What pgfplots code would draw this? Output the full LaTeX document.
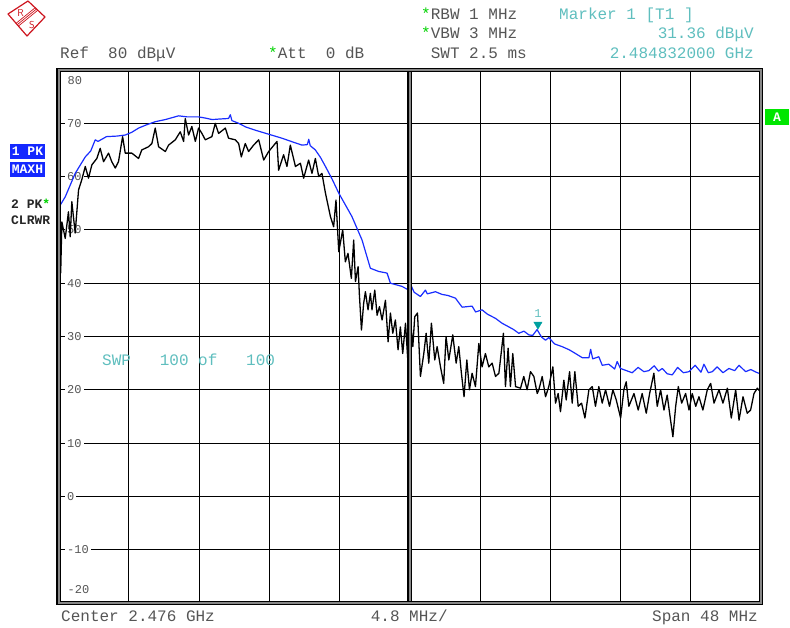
\documentclass[border=0pt]{standalone}
\usepackage{fontspec}
\setmainfont{Liberation Mono}
\usepackage{pgfplots}
\pgfplotsset{compat=1.18}
\definecolor{txtgray}{RGB}{85,85,85}
\definecolor{tealtxt}{RGB}{95,190,190}
\definecolor{tealmark}{RGB}{0,160,160}
\definecolor{traceblue}{RGB}{25,45,255}
\definecolor{starg}{RGB}{0,210,0}
\definecolor{boxblue}{RGB}{20,40,255}
\definecolor{agreen}{RGB}{0,230,0}
\definecolor{framegray}{RGB}{135,135,135}
\definecolor{rsred}{RGB}{205,20,30}
\newcommand{\hdrfont}{\fontsize{16}{16}\selectfont}
\begin{document}
\begin{tikzpicture}
\path (0,0) rectangle (790pt,627pt);
% R&S logo
\begin{scope}
\path[clip] (28pt,626pt) -- (45pt,610pt) -- (27pt,591pt) -- (8pt,613pt) -- cycle;
\draw[rsred, line width=0.7pt] (40.3pt,621.1pt) -- (13.7pt,599.4pt);
\draw[rsred, line width=0.7pt] (41.44pt,619.7pt) -- (14.84pt,598.0pt);
\draw[rsred, line width=0.7pt] (39.16pt,622.5pt) -- (12.56pt,600.8pt);
\end{scope}
\draw[rsred, line width=1.2pt, line join=round] (28pt,626pt) -- (45pt,610pt) -- (27pt,591pt) -- (8pt,613pt) -- cycle;
\node[rsred, font=\fontsize{10}{10}\sffamily, inner sep=0pt] at (20.5pt,614pt) {R};
\node[rsred, font=\fontsize{10}{10}\sffamily, inner sep=0pt] at (32pt,602pt) {S};

\begin{axis}[
  at={(58.5pt,24pt)}, anchor=south west,
  width=702.5pt, height=533pt, scale only axis,
  xmin=0, xmax=48, ymin=-20, ymax=80,
  xtick={4.8,9.6,14.4,19.2,24,28.8,33.6,38.4,43.2},
  xticklabel=\empty,
  ytick={-10,0,10,20,30,40,50,60,70},
  yticklabels={-10,0,10,20,30,40,50,60,70},
  major tick length=0pt,
  grid=major,
  major grid style={black, line width=1pt},
  axis line style={draw=none},
  set layers,
  clip=false,
  yticklabel style={anchor=west, xshift=6.5pt, fill=white, inner xsep=2pt, inner ysep=0.5pt, text=txtgray, font=\fontsize{12}{12}\selectfont},
]
\addplot[black, line width=1.3pt, line join=round] coordinates {
(0,48.1)(0.05,41.2)(0.15,42.0)(0.23,51.5)(0.46,48.4)(0.68,53.4)(0.80,48.7)(0.91,55.3)(1.14,49.4)(1.37,57.5)(1.59,59.4)(1.83,61.9)(2.05,59.7)(2.28,62.2)(2.62,63.4)(2.85,65.3)(3.08,62.8)(3.42,64.4)(3.64,62.8)(3.88,61.6)(4.10,62.8)(4.38,67.5)(4.56,64.4)(5.01,64.4)(5.47,63.4)(5.69,65.0)(6.15,65.6)(6.38,66.2)(6.61,69.1)(6.84,65.6)(7.30,64.7)(7.52,65.9)(7.98,66.9)(8.32,68.4)(8.55,66.6)(8.66,70.9)(8.89,67.8)(9.11,69.4)(9.35,66.6)(9.57,69.1)(9.80,68.1)(10.03,66.9)(10.48,67.5)(10.71,70.0)(10.94,68.1)(11.40,69.1)(11.62,67.2)(12.08,66.9)(12.31,66.2)(12.49,63.7)(12.76,66.2)(12.99,64.7)(13.33,65.9)(13.68,66.9)(14.02,63.1)(14.36,64.7)(14.93,66.6)(15.04,61.2)(15.38,64.1)(15.61,61.9)(15.84,65.9)(16.19,61.9)(16.53,62.5)(16.75,59.7)(17.09,63.1)(17.32,60.6)(17.55,63.4)(17.78,60.0)(18.00,60.6)(18.24,56.9)(18.58,52.5)(18.80,50.6)(18.96,55.6)
(19.15,45.9)(19.42,50.0)(19.60,44.0)(19.78,45.6)(20.01,40.9)(20.17,48.1)(20.29,40.3)(20.47,43.1)(20.56,37.8)(20.70,31.2)(20.85,36.2)(20.97,38.4)(21.15,35.0)(21.31,38.1)(21.42,35.0)(21.61,38.7)(21.77,34.0)(21.93,35.6)(22.11,33.1)(22.34,36.8)(22.52,29.0)(22.68,34.4)(22.84,30.6)(23.02,33.1)(23.20,27.5)(23.36,31.8)(23.52,26.8)(23.71,32.5)(23.88,25.0)(24.05,33.1)(24.21,28.1)(24.34,33.7)(24.53,34.4)(24.73,22.5)(24.96,26.8)(25.12,30.6)(25.30,25.0)(25.48,32.5)(25.71,25.6)(25.87,28.1)(26.10,24.3)(26.32,21.2)(26.48,30.0)(26.67,25.6)(26.94,30.3)(27.17,25.0)(27.35,28.1)(27.53,23.1)(27.71,18.7)(27.90,25.6)(28.08,20.0)(28.26,23.1)(28.49,20.6)(28.72,28.7)(28.94,24.3)(29.17,26.8)(29.40,24.3)(29.63,25.0)(29.86,22.5)(30.09,23.1)(30.40,30.6)(30.54,20.6)(30.72,27.8)(30.88,20.6)(31.04,26.8)(31.23,20.6)(31.57,20.3)(31.79,22.5)(32.02,20.0)(32.25,23.4)(32.48,22.5)(32.71,19.3)
(32.82,20.0)(33.05,22.5)(33.28,18.7)(33.50,20.6)(33.78,24.3)(33.96,17.5)(34.14,19.3)(34.30,15.9)(34.53,21.8)(34.69,18.1)(34.92,23.4)(35.10,17.5)(35.28,23.4)(35.51,16.9)(35.74,17.5)(35.97,14.7)(36.24,20.0)(36.47,20.6)(36.69,16.9)(36.92,20.6)(37.15,17.5)(37.38,20.0)(37.65,16.9)(37.88,20.0)(38.11,18.1)(38.41,14.7)(38.63,20.0)(38.79,21.5)(38.97,16.9)(39.32,19.3)(39.61,16.2)(39.88,19.3)(40.16,15.6)(40.39,19.3)(40.68,23.1)(40.91,16.9)(41.14,20.0)(41.37,16.2)(41.59,19.0)(41.82,14.3)(41.98,11.2)(42.17,16.9)(42.35,20.6)(42.58,17.5)(42.85,19.3)(43.08,16.2)(43.30,19.3)(43.54,16.9)(43.76,18.7)(44.03,16.2)(44.33,20.0)(44.56,21.2)(44.79,17.5)(45.13,20.0)(45.40,17.5)(45.70,20.3)(45.97,14.7)(46.27,20.0)(46.50,14.3)(46.77,18.7)(47.06,15.6)(47.29,16.2)(47.52,19.3)(47.75,20.3)(48,19.5)
};
\addplot[traceblue, line width=1.2pt, line join=round] coordinates {
(0,54.1)(0.46,56.2)(1.14,60.6)(1.83,63.7)(2.2,64.8)(2.51,66.9)(2.7,66.6)(3.28,67.5)(4.0,67.6)(4.56,67.8)(5.0,68.3)(5.47,69.1)(6.0,69.7)(6.61,70.3)(7.3,70.7)(8.21,71.4)(8.8,71.2)(9.57,71.2)(10.0,71.0)(10.5,70.7)(11.0,70.8)(11.62,70.9)(11.74,71.6)(11.85,70.5)(12.31,70.0)(12.8,69.3)(13.45,68.7)(14.3,68.0)(15.27,67.2)(16.0,66.5)(16.64,65.9)(17.0,66.0)(17.1,67.0)(17.2,65.8)(17.55,65.0)(17.9,63.6)(18.24,61.9)(18.7,59.5)(19.15,56.9)(20.05,52.5)(20.74,48.1)(21.31,42.8)(21.88,42.2)(22.45,41.9)(22.68,40.0)(23.47,39.4)(23.93,38.7)(24.1,39.5)(24.3,38.3)(24.73,37.5)(25.07,38.7)(25.2,38.0)(25.76,38.4)(26.2,37.9)(26.6,37.7)(27.12,37.2)(27.58,35.5)(28.26,35.7)(28.5,34.6)(28.94,35.0)(29.3,34.2)(29.86,33.4)(30.3,32.5)(30.77,31.8)(31.1,31.3)(31.45,30.6)(31.8,31.0)(32.14,30.3)(32.4,30.2)(32.7,31.3)(33.0,29.9)(33.28,29.3)(33.5,29.8)(33.9,28.6)(34.41,28.1)(34.9,27.5)(35.33,26.8)(35.8,26.0)(36.24,26.0)(36.36,27.6)(36.5,25.8)(36.92,26.2)(37.15,24.6)(37.6,24.8)(38.0,23.9)(38.17,25.3)(38.4,24.0)(38.8,23.6)(39.2,23.2)(39.6,24.2)(40.0,23.4)(40.34,23.6)(40.7,24.5)(41.0,23.5)(41.25,24.0)(41.6,23.0)(41.94,22.8)(42.3,24.2)(42.7,23.2)(43.08,23.4)(43.5,24.6)(43.9,23.3)(44.1,24.8)(44.4,23.2)(44.67,23.4)(45.0,24.3)(45.4,23.2)(45.81,24.0)(46.2,23.6)(46.5,24.6)(46.95,23.4)(47.3,23.8)(47.75,23.2)(48,23.0)
};
% marker 1
\addplot[only marks, mark=triangle*, mark size=4.8pt, color=tealmark, mark options={yshift=4.8pt, rotate=180, fill=tealmark, draw=tealmark}] coordinates {(32.76,31.36)};
\node[text=tealtxt, font=\fontsize{12}{12}\selectfont] at (axis cs:32.76,31.36) [yshift=16pt] {1};
% centre line and frame
\draw[black, double=framegray, double distance=2pt, line width=1.3pt] (axis cs:24,-20) -- (axis cs:24,80);
\draw[black, double=framegray, double distance=2pt, line width=1.3pt] (rel axis cs:0,0) rectangle (rel axis cs:1,1);
\node[anchor=west, text=txtgray, font=\fontsize{12}{12}\selectfont, inner sep=0pt] at (rel axis cs:0,1) [xshift=9pt, yshift=-11pt] {80};
\node[anchor=west, text=txtgray, font=\fontsize{12}{12}\selectfont, inner sep=0pt] at (rel axis cs:0,0) [xshift=9pt, yshift=13pt] {-20};
\node[anchor=base west, text=tealtxt, font=\hdrfont, inner sep=0pt] at (rel axis cs:0,0) [xshift=43.5pt, yshift=237.3pt] {SWP~~~100~of~~~100};
\end{axis}

% header texts
\node[anchor=base west, inner sep=0pt, text=txtgray, font=\hdrfont] at (60pt,568.7pt) {Ref~~80~dBμV};
\node[anchor=base west, inner sep=0pt, text=txtgray, font=\hdrfont] at (268pt,568.7pt) {\textcolor{starg}{*}Att~~0~dB};
\node[anchor=base west, inner sep=0pt, text=txtgray, font=\hdrfont] at (421pt,607.7pt) {\textcolor{starg}{*}RBW~1~MHz};
\node[anchor=base west, inner sep=0pt, text=txtgray, font=\hdrfont] at (421pt,588.7pt) {\textcolor{starg}{*}VBW~3~MHz};
\node[anchor=base west, inner sep=0pt, text=txtgray, font=\hdrfont] at (421pt,568.7pt) {~SWT~2.5~ms};
\node[anchor=base west, inner sep=0pt, text=tealtxt, font=\hdrfont] at (559pt,607.7pt) {Marker~1~[T1~]};
\node[anchor=base east, inner sep=0pt, text=tealtxt, font=\hdrfont] at (754pt,588.7pt) {31.36~dBμV};
\node[anchor=base east, inner sep=0pt, text=tealtxt, font=\hdrfont] at (754pt,568.7pt) {2.484832000~GHz};
% footer texts
\node[anchor=base west, inner sep=0pt, text=txtgray, font=\hdrfont] at (61pt,5.3pt) {Center~2.476~GHz};
\node[anchor=base west, inner sep=0pt, text=txtgray, font=\hdrfont] at (370.6pt,5.3pt) {4.8~MHz/};
\node[anchor=base east, inner sep=0pt, text=txtgray, font=\hdrfont] at (758pt,5.3pt) {Span~48~MHz};
% left trace labels
\node[fill=boxblue, text=white, font=\fontsize{13}{13}\selectfont\bfseries, minimum width=35pt, minimum height=15pt, inner sep=0pt] at (27.5pt,475.5pt) {1~PK};
\node[fill=boxblue, text=white, font=\fontsize{13}{13}\selectfont\bfseries, minimum width=35pt, minimum height=15pt, inner sep=0pt] at (27.5pt,457.8pt) {MAXH};
\node[anchor=base west, inner sep=0pt, text=black!85, font=\fontsize{13}{13}\selectfont\bfseries] at (11pt,418.5pt) {2~PK\textcolor{starg}{*}};
\node[anchor=base west, inner sep=0pt, text=black!85, font=\fontsize{13}{13}\selectfont\bfseries] at (11pt,402pt) {CLRWR};
% A box
\node[fill=agreen, text=white, font=\fontsize{13}{13}\selectfont\bfseries, minimum width=24pt, minimum height=16pt, inner sep=0pt] at (777pt,510pt) {A};
\end{tikzpicture}
\end{document}
